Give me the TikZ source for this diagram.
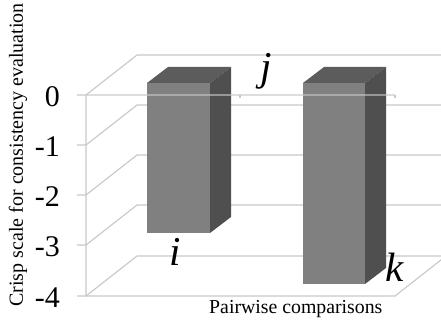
\documentclass[tikz,border=0pt]{standalone}
\usepackage{fontspec}
\setmainfont{Liberation Serif}
\begin{document}
\begin{tikzpicture}[x=1pt,y=-1pt,
  grid/.style={draw=black!22,line width=1.1pt},
  front/.style={fill=black!50},
  topface/.style={fill=black!64},
  sideface/.style={fill=black!69},
  ticklab/.style={anchor=east,font=\fontsize{30}{30}\selectfont,inner sep=0pt},
  letter/.style={font=\fontsize{41}{41}\selectfont\itshape,inner sep=0pt}]
\useasboundingbox (0,0) rectangle (441,323);
% back wall and left wall grid lines
\foreach \yy in {95,145,195,245,296}{
  \draw[grid] (77,\yy) -- (86,\yy) -- (137,\yy-40) -- (441,\yy-40);
}
\draw[grid] (86,95) -- (86,296) -- (395,296) -- (446,256);
% bar i
\fill[front] (147,83) rectangle (210,233);
\fill[topface] (147,83) -- (210,83) -- (231,67) -- (168,67) -- cycle;
\fill[sideface] (210,83) -- (231,67) -- (231,217) -- (210,233) -- cycle;
% bar k
\fill[front] (303,83) rectangle (365,284);
\fill[topface] (303,83) -- (365,83) -- (386,67) -- (324,67) -- cycle;
\fill[sideface] (365,83) -- (386,67) -- (386,268) -- (365,284) -- cycle;
% front zero line over the bars
\draw[draw=black!22,line width=1.1pt,opacity=0.6] (86,95) -- (395,95);
\draw[draw=black!22,line width=1.1pt] (240,95) -- (240,98) (395,95) -- (395,98);
% tick labels
\node[ticklab] (t0) at (60,97) {0};
\node[ticklab] (t1) at (60,147) {-1};
\node[ticklab] (t2) at (60,197) {-2};
\node[ticklab] (t3) at (60,247) {-3};
\node[ticklab] (t4) at (60,298) {-4};
% axis titles
\node[rotate=90,font=\fontsize{20}{20}\selectfont,inner sep=0pt] (ytitle) at (18,155) {Crisp scale for consistency evaluation};
\node[anchor=west,font=\fontsize{19.8}{20}\selectfont,inner sep=0pt] (xtitle) at (209,309) {Pairwise comparisons};
% letters
\node[letter] (li) at (175,252) {i};
\node[letter] (lj) at (266,71) {j};
\node[letter] (lk) at (395,267) {k};
\end{tikzpicture}
\end{document}
